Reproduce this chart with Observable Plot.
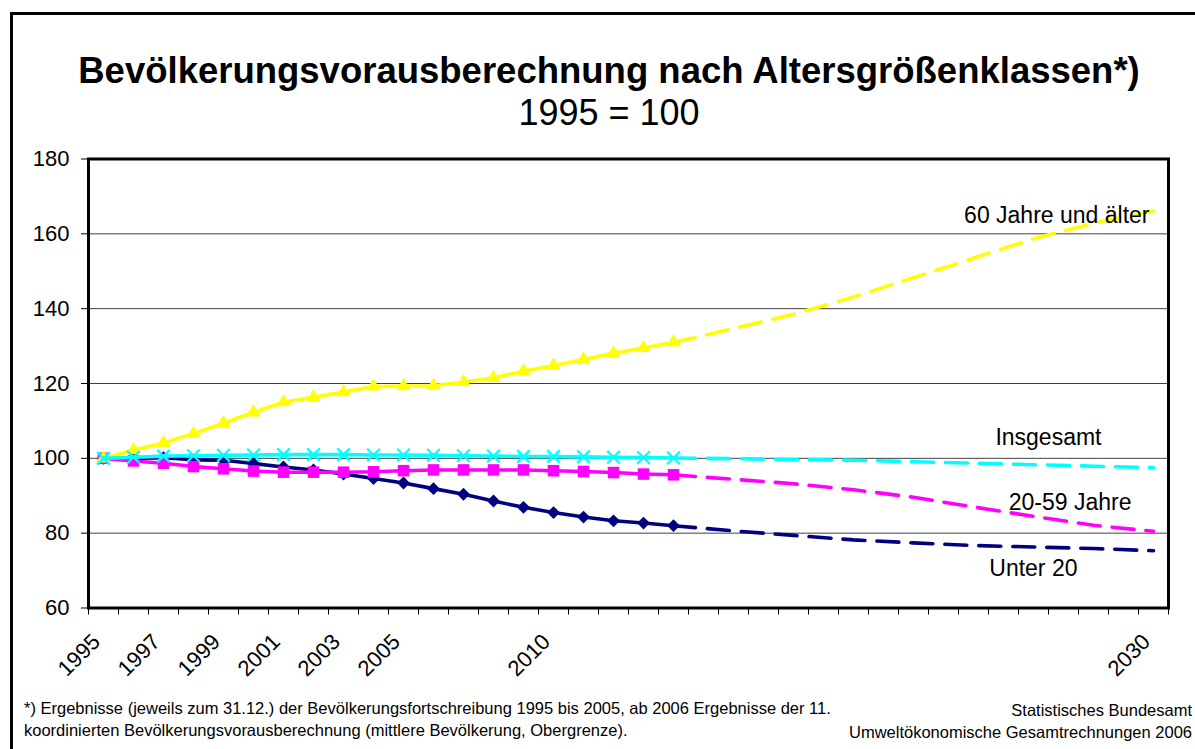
<!DOCTYPE html>
<html><head><meta charset="utf-8">
<script src="https://cdn.jsdelivr.net/npm/d3@7"></script>
<script src="https://cdn.jsdelivr.net/npm/@observablehq/plot@0.6"></script>
<style>
html,body{margin:0;padding:0;background:#fff;overflow:hidden;}
body{font-family:"Liberation Sans",Arial,sans-serif;color:#000;}
#wrap{position:relative;width:1195px;height:749px;overflow:hidden;}
#frame{position:absolute;left:10px;top:12px;width:1300px;height:900px;border-left:3px solid #000;border-top:3px solid #000;}
#title{position:absolute;left:0;width:1218px;top:53px;text-align:center;font-weight:bold;font-size:36.5px;line-height:36px;white-space:nowrap;}
#subtitle{position:absolute;left:0;width:1218px;top:95px;text-align:center;font-size:36px;line-height:36px;white-space:nowrap;}
#chart{position:absolute;left:0;top:140px;}
#noteL{position:absolute;left:24px;top:698px;font-size:16.5px;line-height:21.5px;white-space:nowrap;}
#noteR{position:absolute;right:3px;top:700px;font-size:16.5px;line-height:21.5px;text-align:right;white-space:nowrap;}
</style></head>
<body>
<div id="wrap">
<div id="frame"></div>
<div id="title">Bevölkerungsvorausberechnung nach Altersgrößenklassen*)</div>
<div id="subtitle">1995 = 100</div>
<div id="chart"></div>
<div id="noteL">*) Ergebnisse (jeweils zum 31.12.) der Bevölkerungsfortschreibung 1995 bis 2005, ab 2006 Ergebnisse der 11.<br>koordinierten Bevölkerungsvorausberechnung (mittlere Bevölkerung, Obergrenze).</div>
<div id="noteR">Statistisches Bundesamt<br>Umweltökonomische Gesamtrechnungen 2006</div>
</div>
<script>
// Categories (years) of the x axis
const categoryYears = [1995,1996,1997,1998,1999,2000,2001,2002,2003,2004,2005,2006,2007,2008,2009,2010,2011,2012,2013,2014,2015,2016,2017,2018,2019,2020,2021,2022,2023,2024,2025,2026,2027,2028,2029,2030];
const tickLabelYears = [1995,1997,1999,2001,2003,2005,2010,2030];
const yTicks = [60,80,100,120,140,160,180];
const gridValues = [80,100,120,140,160];

// Series names
const seriesNames = ["Unter 20","20-59 Jahre","60 Jahre und älter","Insgesamt"];

// Marked (annual) values 1995-2014
const markedYears = [1995,1996,1997,1998,1999,2000,2001,2002,2003,2004,2005,2006,2007,2008,2009,2010,2011,2012,2013,2014];
const under20   = [100,100,100.2,99.6,99.5,98.6,97.7,96.9,95.8,94.6,93.4,91.9,90.4,88.6,86.9,85.5,84.3,83.3,82.7,82.0];
const age20to59 = [100,99.3,98.7,97.8,97.2,96.6,96.3,96.3,96.3,96.4,96.7,96.9,96.9,96.9,96.9,96.7,96.5,96.2,95.8,95.6];
const age60plus = [100,102.2,104.1,106.6,109.4,112.3,115.0,116.3,117.7,119.2,119.3,119.4,120.4,121.5,123.3,124.8,126.4,128.1,129.5,131.0];
const totalPop  = [100,100.3,100.6,100.7,100.8,100.9,101.0,101.0,101.0,100.9,100.9,100.8,100.7,100.6,100.5,100.5,100.4,100.3,100.2,100.1];

// Dashed continuation 2014-2030
const projYears      = [2014,2016,2018,2020,2022,2024,2026,2028,2030];
const under20Proj    = [82.0,80.6,79.4,78.2,77.4,76.7,76.3,75.9,75.3];
const age20to59Proj  = [95.6,94.4,93.2,91.6,89.6,87.0,84.5,82.1,80.5];
const age60plusProj  = [131.0,134.7,138.5,143.1,148.3,153.5,158.7,162.8,166.2];
const totalPopProj   = [100.1,99.9,99.7,99.5,99.1,98.7,98.3,97.9,97.5];

const colors = {"Unter 20":"#000080","20-59 Jahre":"#FF00FF","60 Jahre und älter":"#FFFF00","Insgesamt":"#00FFFF"};

const marked = [under20, age20to59, age60plus, totalPop];
const proj = [under20Proj, age20to59Proj, age60plusProj, totalPopProj];
const rowsFor = (i) => markedYears.map((yr, j) => ({year: yr, value: marked[i][j], name: seriesNames[i]}));
const projFor = (i) => projYears.map((yr, j) => ({year: yr, value: proj[i][j], name: seriesNames[i]}));

const bounds = categoryYears.map(d => d - 0.5).concat([categoryYears[categoryYears.length-1] + 0.5]);

const symbolStyle = {
  "Unter 20": {symbol:"diamond2", r:5.8, fill:colors["Unter 20"]},
  "20-59 Jahre": {symbol:"square", r:6.5, fill:colors["20-59 Jahre"]},
  "60 Jahre und älter": {symbol:"triangle", r:5.3, fill:colors["60 Jahre und älter"]},
  "Insgesamt": {symbol:"times", r:5.8, stroke:colors["Insgesamt"], strokeWidth:2.2, fill:"none"}
};

const seriesMarks = [];
seriesNames.forEach((name, i) => {
  seriesMarks.push(Plot.line(projFor(i), {x:"year", y:"value", stroke:colors[name], strokeWidth:3.6, strokeDasharray:"22,12"}));
  seriesMarks.push(Plot.line(rowsFor(i), {x:"year", y:"value", stroke:colors[name], strokeWidth:3.6}));
  seriesMarks.push(Plot.dot(rowsFor(i), {x:"year", y:"value", ...symbolStyle[name]}));
});

const labelOffsets = {
  "60 Jahre und älter": {dx:-4, dy:5},
  "Insgesamt": {dx:-52, dy:-30},
  "20-59 Jahre": {dx:-22, dy:-29},
  "Unter 20": {dx:-76, dy:18}
};
const labelMarks = seriesNames.map((name, i) => {
  const p = projFor(i);
  return Plot.text([p[p.length-1]], {x:"year", y:"value", text:"name", textAnchor:"end", fontSize:23, fill:"#000", ...labelOffsets[name]});
});

const chart = Plot.plot({
  width:1195, height:560,
  marginLeft:88, marginRight:27, marginTop:18.5, marginBottom:92.5,
  x:{domain:[1994.5, 2030.5]},
  y:{domain:[60,180]},
  style:{fontFamily:"'Liberation Sans', Arial, sans-serif", background:"transparent", color:"#000", overflow:"visible"},
  marks:[
    Plot.gridY(gridValues, {stroke:"#000", strokeOpacity:0.75, strokeWidth:1}),
    Plot.axisY({ticks:yTicks, tickSize:7, tickPadding:12, fontSize:22, label:null, tickFormat:d => String(d)}),
    Plot.axisX({ticks:bounds, tickSize:7, tickFormat:() => "", label:null}),
    Plot.axisX({ticks:tickLabelYears, tickSize:0, tickPadding:30, tickRotate:-45, fontSize:22, dx:-7, label:null, tickFormat:d => String(d)}),
    ...seriesMarks,
    Plot.frame({stroke:"#000", strokeWidth:3}),
    ...labelMarks
  ]
});
document.getElementById("chart").appendChild(chart);
</script>
</body></html>
